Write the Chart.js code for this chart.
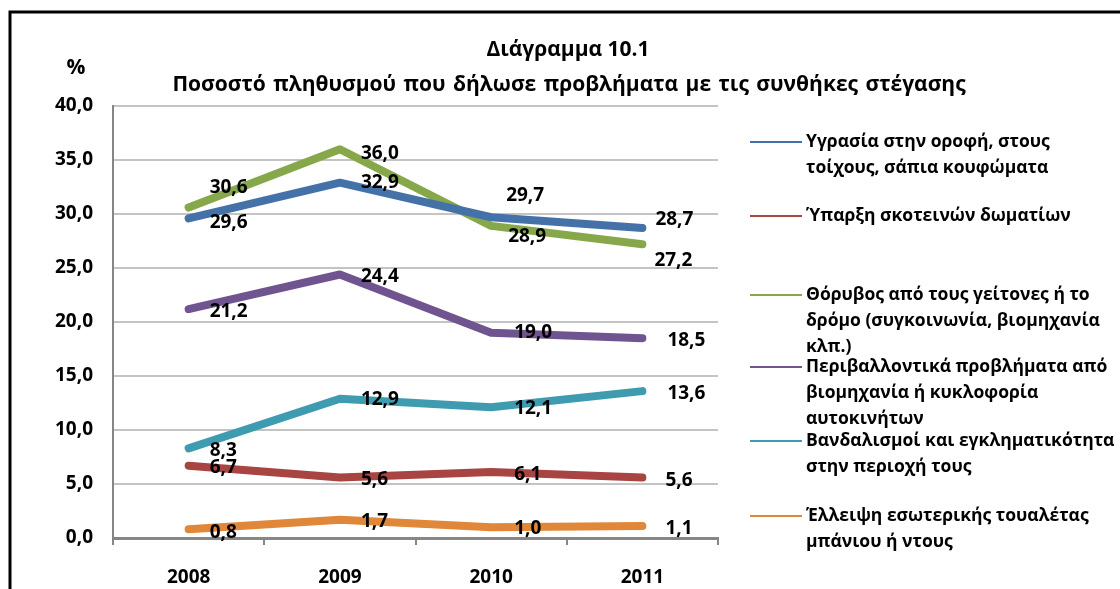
<!DOCTYPE html>
<html>
<head>
<meta charset="utf-8">
<script src="https://cdn.jsdelivr.net/npm/chart.js@4"></script>
<style>
  html, body { margin: 0; padding: 0; background: #fff; }
  #wrap { width: 1120px; height: 589px; }
</style>
</head>
<body>
<div id="wrap"><canvas id="chart" width="1120" height="589"></canvas></div>
<script>
const years = ['2008', '2009', '2010', '2011'];

const dampValues = [29.6, 32.9, 29.7, 28.7];
const darkRoomValues = [6.7, 5.6, 6.1, 5.6];
const noiseValues = [30.6, 36.0, 28.9, 27.2];
const pollutionValues = [21.2, 24.4, 19.0, 18.5];
const crimeValues = [8.3, 12.9, 12.1, 13.6];
const toiletValues = [0.8, 1.7, 1.0, 1.1];

const seriesNames = [
    ['Υγρασία στην οροφή, στους', 'τοίχους, σάπια κουφώματα'],
    ['Ύπαρξη σκοτεινών δωματίων'],
    ['Θόρυβος από τους γείτονες ή το', 'δρόμο (συγκοινωνία, βιομηχανία', 'κλπ.)'],
    ['Περιβαλλοντικά προβλήματα από', 'βιομηχανία ή κυκλοφορία', 'αυτοκινήτων'],
    ['Βανδαλισμοί και εγκληματικότητα', 'στην περιοχή τους'],
    ['Έλλειψη εσωτερικής τουαλέτας', 'μπάνιου ή ντους']
];

const titleLine1 = 'Διάγραμμα 10.1';
const titleLine2 = 'Ποσοστό πληθυσμού που δήλωσε προβλήματα με τις συνθήκες στέγασης';
const yUnit = '%';

const seriesColors = ['#4571A9', '#A84442', '#87A84A', '#6F5490', '#3F9BB0', '#E0873A'];

// label offsets from each point [dx, dy], placed by hand like the original
const labelOffsets = [
    [[21, 4], [21, 0], [15, -22], [13, -8]],
    [[21, 2], [21, 2], [23, 2], [23, 3]],
    [[21, -20], [21, 4], [17, 11], [12, 16]],
    [[21, 3], [21, 2], [23, 0], [25, 2]],
    [[21, 2], [21, 1], [23, 1], [25, 2]],
    [[21, 3], [21, 2], [23, 1], [23, 2]]
];

// legend row start heights
const legendRows = [142, 216, 295, 367, 441, 516];

const FONT = '"Open Sans", "Noto Sans", sans-serif';

const allValues = [dampValues, darkRoomValues, noiseValues, pollutionValues, crimeValues, toiletValues];

const datasets = allValues.map((vals, i) => ({
    label: seriesNames[i].join(' '),
    data: vals,
    borderColor: seriesColors[i],
    backgroundColor: seriesColors[i],
    borderWidth: 8,
    borderCapStyle: 'round',
    borderJoinStyle: 'round',
    pointRadius: 0,
    pointHoverRadius: 0,
    fill: false,
    tension: 0
}));

const decorPlugin = {
    id: 'decor',
    beforeDraw(chart) {
        const ctx = chart.ctx;
        ctx.save();
        ctx.fillStyle = '#fff';
        ctx.fillRect(0, 0, chart.width, chart.height);
        // outer frame
        ctx.strokeStyle = '#000';
        ctx.lineWidth = 3;
        ctx.beginPath();
        ctx.moveTo(10, 589);
        ctx.lineTo(10, 12);
        ctx.lineTo(1120, 12);
        ctx.stroke();
        ctx.restore();
    },
    afterDraw(chart) {
        const ctx = chart.ctx;
        ctx.save();
        ctx.fillStyle = '#000';
        ctx.textBaseline = 'middle';

        // title
        ctx.font = 'bold 21px ' + FONT;
        ctx.textAlign = 'center';
        ctx.fillText(titleLine1, 568, 50);
        ctx.wordSpacing = '2px';
        ctx.fillText(titleLine2, 569, 85);
        ctx.wordSpacing = '0px';
        ctx.fillText(yUnit, 76, 68);

        // data labels
        ctx.font = 'bold 19px ' + FONT;
        ctx.textAlign = 'left';
        chart.data.datasets.forEach((ds, i) => {
            const meta = chart.getDatasetMeta(i);
            meta.data.forEach((pt, j) => {
                const off = labelOffsets[i][j];
                const txt = ds.data[j].toFixed(1).replace('.', ',');
                ctx.fillText(txt, pt.x + off[0], pt.y + off[1]);
            });
        });

        // legend
        ctx.font = 'bold 17.5px ' + FONT;
        seriesNames.forEach((lines, i) => {
            const y0 = legendRows[i];
            ctx.strokeStyle = seriesColors[i];
            ctx.lineWidth = 2;
            ctx.beginPath();
            ctx.moveTo(750, y0);
            ctx.lineTo(802, y0);
            ctx.stroke();
            lines.forEach((ln, k) => {
                ctx.fillText(ln, 806, y0 + k * 26);
            });
        });
        ctx.restore();
    }
};

new Chart(document.getElementById('chart'), {
    type: 'line',
    data: { labels: years, datasets: datasets },
    options: {
        responsive: false,
        animation: false,
        layout: { padding: { left: 0, right: 402, top: 106, bottom: 0 } },
        plugins: {
            legend: { display: false },
            title: { display: false },
            tooltip: { enabled: false }
        },
        scales: {
            x: {
                offset: true,
                afterFit(scale) { scale.height = 51; },
                grid: {
                    offset: true,
                    drawOnChartArea: false,
                    drawTicks: true,
                    tickLength: 7,
                    color: '#868686',
                    lineWidth: 2
                },
                border: { color: '#868686', width: 3 },
                ticks: {
                    color: '#000',
                    padding: 21,
                    font: { family: FONT, size: 19, weight: 'bold' }
                }
            },
            y: {
                min: 0,
                max: 40,
                afterFit(scale) { scale.width = 113; },
                ticks: {
                    stepSize: 5,
                    color: '#000',
                    padding: 20,
                    font: { family: FONT, size: 19, weight: 'bold' },
                    callback: v => v.toFixed(1).replace('.', ',')
                },
                grid: {
                    color: '#C4C4C4',
                    lineWidth: 2,
                    drawTicks: false
                },
                border: { color: '#868686', width: 2 }
            }
        }
    },
    plugins: [decorPlugin]
});
</script>
</body>
</html>
